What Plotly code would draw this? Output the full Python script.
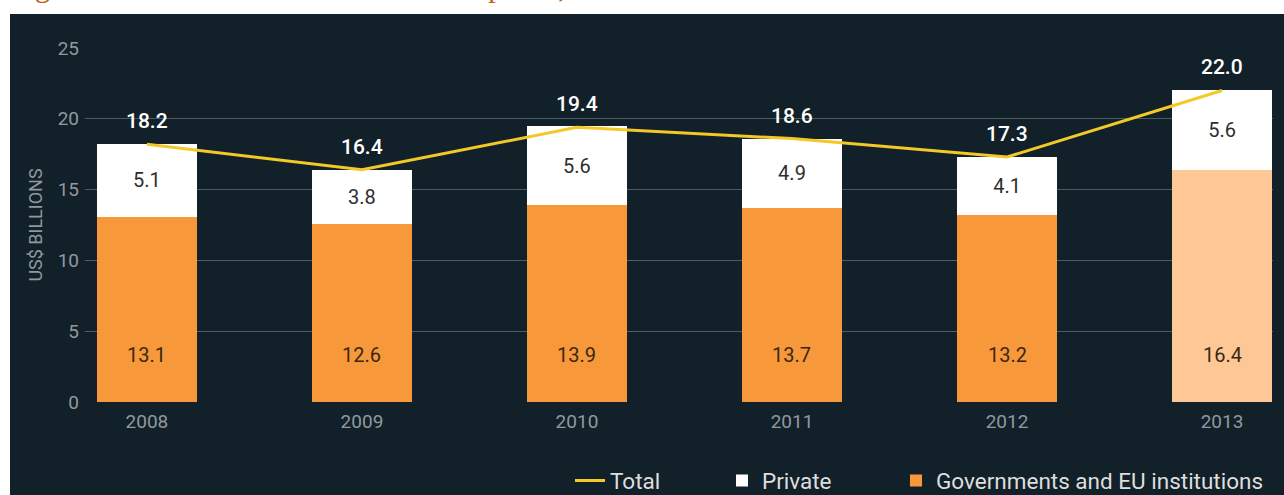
import plotly.graph_objects as go

years = ["2008", "2009", "2010", "2011", "2012", "2013"]
governments = [13.1, 12.6, 13.9, 13.7, 13.2, 16.4]
private = [5.1, 3.8, 5.6, 4.9, 4.1, 5.6]
total = [18.2, 16.4, 19.4, 18.6, 17.3, 22.0]
y_ticks = [0, 5, 10, 15, 20, 25]

BG = "#12202a"
ORANGE = "#f7993a"
ORANGE_PRELIM = "#fdc896"
YELLOW = "#f3c928"
GRID = "#4c5a63"
TICK = "#8f999f"

# design grid in 495-px units, figure built slightly taller
W, H0 = 1284, 495
S = 513 / 495
H = round(H0 * S)
L, R = 85, 11
T, B = round(46 * S), H - round(403 * S)
pw, ph = W - L - R, H - T - B


def px_x(p):
    return (p - L) / pw


def px_y(p):
    return (H - B - p * S) / ph


gov_colors = [ORANGE] * (len(years) - 1) + [ORANGE_PRELIM]

fig = go.Figure()
fig.add_trace(go.Bar(
    x=years, y=governments, name="Governments and EU institutions",
    marker=dict(color=gov_colors, line=dict(width=0)),
    width=0.465, hoverinfo="skip", legend="legend3",
))
fig.add_trace(go.Bar(
    x=years, y=private, name="Private",
    marker=dict(color="#ffffff", line=dict(width=0)),
    width=0.465,
    text=[f"{v:.1f}" for v in private], textposition="inside",
    insidetextanchor="middle",
    textfont=dict(family="Roboto", size=20, color="#2e2e2e"),
    hoverinfo="skip", legend="legend2",
))
fig.add_trace(go.Scatter(
    x=years, y=total, name="Total", mode="lines",
    line=dict(color=YELLOW, width=3), hoverinfo="skip", legend="legend",
))

annotations = []
# category positions are given by index so numeric-looking years stay put
for i, v in enumerate(total):
    annotations.append(dict(
        x=i, y=v, xref="x", yref="y", text=f"{v:.1f}", showarrow=False,
        yanchor="middle", yshift=23,
        font=dict(family="Roboto", size=21, color="#ffffff", weight=500),
    ))
for i, v in enumerate(governments):
    annotations.append(dict(
        x=i, y=3.35, xref="x", yref="y", text=f"{v:.1f}", showarrow=False,
        yanchor="middle",
        font=dict(family="Roboto", size=20, color="#3a2814"),
    ))
annotations.append(dict(
    x=px_x(8), y=px_y(3), xref="paper", yref="paper", xanchor="left",
    yanchor="bottom", showarrow=False,
    text="Figure 1: International humanitarian response, 2008–2013",
    font=dict(family="Liberation Serif", size=30, color="#c55a11"),
))


def legend_at(x_px):
    return dict(
        orientation="h", x=px_x(x_px), xanchor="left",
        y=px_y(483), yanchor="middle",
        font=dict(family="Roboto", size=22.5, color="#dedede"),
        bgcolor="rgba(0,0,0,0)",
        itemclick=False, itemdoubleclick=False,
    )


fig.update_layout(
    width=W, height=H, autosize=False,
    margin=dict(l=L, r=R, t=T, b=B),
    paper_bgcolor="#ffffff",
    plot_bgcolor="rgba(0,0,0,0)",
    barmode="stack",
    bargap=0.5,
    showlegend=True,
    legend=legend_at(570),
    legend2=legend_at(722),
    legend3=legend_at(896),
    shapes=[dict(
        type="rect", xref="paper", yref="paper", layer="below",
        x0=px_x(10), x1=px_x(W + 2), y0=px_y(12), y1=px_y(H0 + 20),
        fillcolor=BG, line=dict(width=0),
    )],
    annotations=annotations,
    xaxis=dict(
        type="category", range=[-0.288, 5.237], showgrid=False,
        showline=False, zeroline=False, ticks="", ticklabelstandoff=6,
        tickfont=dict(family="Roboto", size=19, color=TICK),
    ),
    yaxis=dict(
        range=[0, 25], tickvals=y_ticks, showgrid=True, gridcolor=GRID,
        gridwidth=1, zeroline=False, showline=False, ticks="",
        ticklabelstandoff=5,
        tickfont=dict(family="Roboto", size=19, color=TICK),
        title=dict(text="US$ BILLIONS", standoff=10,
                   font=dict(family="Roboto", size=18, color=TICK)),
    ),
)

fig.write_html("out.html", config={"responsive": False})
